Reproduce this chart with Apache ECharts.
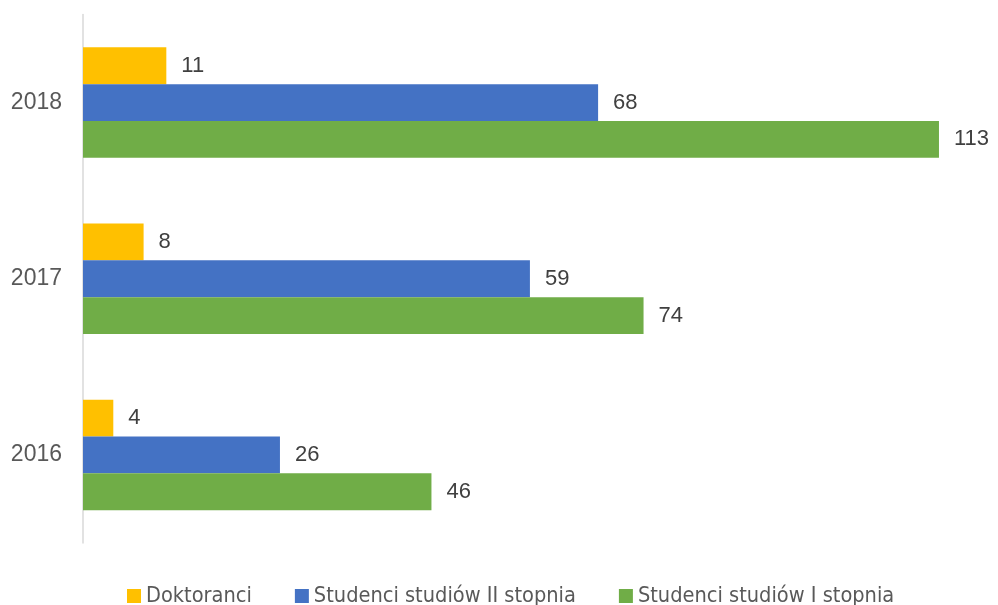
<!DOCTYPE html>
<html><head><meta charset="utf-8">
<script src="https://cdn.jsdelivr.net/npm/echarts@6/dist/echarts.min.js"></script>
<style>html,body{margin:0;padding:0;background:#fff}#c{width:998px;height:605px}</style>
</head><body><div id="c"></div>
<script>
const categories = ['2016', '2017', '2018'];
const seriesNames = ['Doktoranci', 'Studenci studiów II stopnia', 'Studenci studiów I stopnia'];
const doktoranci = [4, 8, 11];
const studiaII = [26, 59, 68];
const studiaI = [46, 74, 113];
const colors = ['#FFC000', '#4472C4', '#70AD47'];

const chart = echarts.init(document.getElementById('c'));
const label = {show: true, position: 'right', distance: 15, color: '#404040', fontSize: 22, fontFamily: "'Liberation Sans', Arial, sans-serif"};
const values = [doktoranci, studiaII, studiaI];
chart.setOption({
  animation: false,
  grid: {left: 83, top: 14.5, width: 909, height: 528.5, containLabel: false},
  legend: {
    data: seriesNames, top: 584, left: 127, itemWidth: 14, itemHeight: 14, itemGap: 43,
    icon: 'rect', padding: 0,
    textStyle: {color: '#595959', fontSize: 21.6, lineHeight: 24, fontFamily: "'Liberation Sans Narrow', 'DejaVu Sans Condensed', sans-serif"}
  },
  xAxis: {type: 'value', min: 0, max: 120, show: false},
  yAxis: {
    type: 'category', data: categories,
    axisLine: {show: true, lineStyle: {color: '#D9D9D9', width: 1.5}},
    axisTick: {show: false},
    axisLabel: {color: '#595959', fontSize: 23, margin: 21, fontFamily: "'Liberation Sans', Arial, sans-serif"}
  },
  series: [0, 1, 2].map(i => ({
    name: seriesNames[i], type: 'bar', data: values[i],
    itemStyle: {color: colors[i]}, barGap: '0%', barCategoryGap: '37.3%', label
  }))
});
</script></body></html>
